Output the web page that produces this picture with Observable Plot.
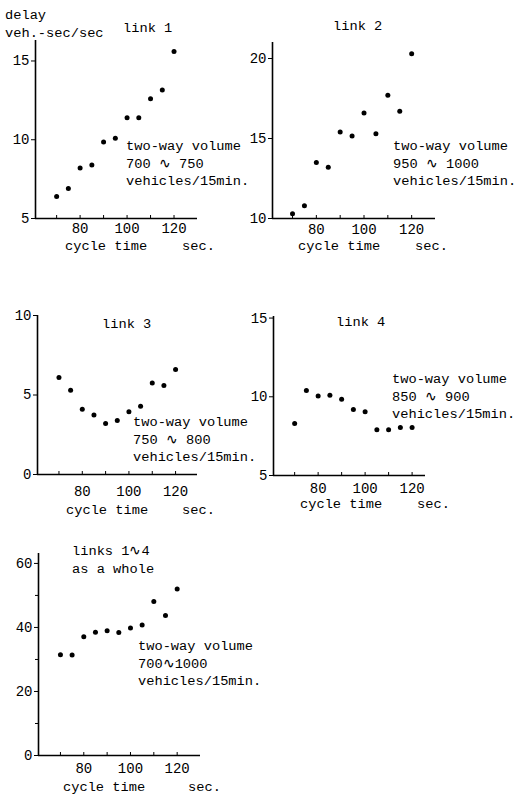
<!DOCTYPE html>
<html>
<head>
<meta charset="utf-8">
<script src="https://cdn.jsdelivr.net/npm/d3@7"></script>
<script src="https://cdn.jsdelivr.net/npm/@observablehq/plot@0.6"></script>
<style>
  html, body { margin: 0; padding: 0; background: #fff; }
  #page { position: relative; width: 516px; height: 799px; overflow: hidden; background: #fff;
          font-family: "Liberation Mono", "DejaVu Sans Mono", monospace; color: #000; }
  .t { position: absolute; white-space: pre; font-size: 13.7px; line-height: 17.5px; }
  svg { position: absolute; overflow: visible; }
</style>
</head>
<body>
<div id="page"></div>
<script>
// ---- data ----
const cycleTimes = [70, 75, 80, 85, 90, 95, 100, 105, 110, 115, 120];
const link1Delay = [6.4, 6.9, 8.2, 8.4, 9.85, 10.1, 11.4, 11.4, 12.6, 13.15, 15.6];
const link2Delay = [10.3, 10.8, 13.5, 13.2, 15.4, 15.15, 16.6, 15.3, 17.7, 16.7, 20.3];
const link3Delay = [6.1, 5.3, 4.1, 3.75, 3.2, 3.4, 3.95, 4.3, 5.75, 5.6, 6.6];
const link4Delay = [8.3, 10.4, 10.05, 10.1, 9.85, 9.2, 9.05, 7.9, 7.9, 8.05, 8.05];
const allLinksDelay = [31.5, 31.4, 37.1, 38.5, 39.0, 38.4, 39.8, 40.8, 48.1, 43.7, 52.0];

const xTickMarks = [70, 80, 90, 100, 110, 120];
const xTickLabels = [80, 100, 120];
const link1YTicks = [5, 10, 15];
const link2YTicks = [10, 15, 20];
const link3YTicks = [0, 5, 10];
const link4YTicks = [5, 10, 15];
const allYTicks = [0, 20, 40, 60];
const allYMinorTicks = [10, 30, 50];

const panelTitles = ["link 1", "link 2", "link 3", "link 4", "links 1\u223F4\nas a whole"];
const volumeTexts = [
  "two-way volume\n700 \u223F 750\nvehicles/15min.",
  "two-way volume\n950 \u223F 1000\nvehicles/15min.",
  "two-way volume\n750 \u223F 800\nvehicles/15min.",
  "two-way volume\n850 \u223F 900\nvehicles/15min.",
  "two-way volume\n700\u223F1000\nvehicles/15min."
];
const yAxisTitle = "delay\nveh.-sec/sec";
const xAxisTitle = "cycle time";
const xUnit = "sec.";

// ---- layout ----
const page = document.getElementById("page");
const ML = 40, MR = 20, MT = 10, MB = 40;
const INK = "#000";

function addText(x, yCenter, str, extra) {
  const d = document.createElement("div");
  d.className = "t";
  d.textContent = str;
  d.style.left = x + "px";
  d.style.top = (yCenter - 8.75) + "px";
  if (extra) Object.assign(d.style, extra);
  page.appendChild(d);
}

function panel(cfg) {
  const data = cycleTimes.map((c, i) => ({cycle: c, delay: cfg.values[i]}));
  const marks = [
    Plot.ruleX([cfg.xDomain[0]], {stroke: INK, strokeWidth: 1.6}),
    Plot.ruleY([cfg.yDomain[0]], {stroke: INK, strokeWidth: 1.6}),
    Plot.axisY({ticks: cfg.yTicks, tickSize: 4, tickPadding: 2, label: null, stroke: INK, fill: INK, fontSize: 14}),
    Plot.axisX({ticks: xTickMarks, tickSize: 3, dy: -3, tickFormat: () => "", label: null, stroke: INK}),
    Plot.axisX({ticks: xTickLabels, tickSize: 0, tickPadding: cfg.pad, label: null, fill: INK, fontSize: 14}),
    Plot.dot(data, {x: "cycle", y: "delay", r: 2.5, fill: INK, stroke: "none"})
  ];
  if (cfg.yMinor) marks.push(Plot.axisY({ticks: cfg.yMinor, tickSize: 3, tickFormat: () => "", label: null, stroke: INK}));
  const svg = Plot.plot({
    width: cfg.right - cfg.left + ML + MR,
    height: cfg.bottom - cfg.top + MT + MB,
    marginLeft: ML, marginRight: MR, marginTop: MT, marginBottom: MB,
    x: {domain: cfg.xDomain},
    y: {domain: cfg.yDomain},
    style: {fontFamily: "Liberation Mono, DejaVu Sans Mono, monospace", fontSize: "14px", color: INK, background: "transparent", overflow: "visible"},
    marks
  });
  svg.style.left = (cfg.left - ML) + "px";
  svg.style.top = (cfg.top - MT) + "px";
  page.appendChild(svg);
}

panel({values: link1Delay, left: 35, right: 197, top: 40, bottom: 218, xDomain: [61, 130], yDomain: [5, 16.3], yTicks: link1YTicks, pad: 5});
panel({values: link2Delay, left: 272, right: 435, top: 42, bottom: 218, xDomain: [61.6, 130], yDomain: [10, 21], yTicks: link2YTicks, pad: 6});
panel({values: link3Delay, left: 37, right: 197, top: 315, bottom: 474, xDomain: [60.8, 129.4], yDomain: [0, 10], yTicks: link3YTicks, pad: 12});
panel({values: link4Delay, left: 273, right: 425, top: 316, bottom: 475, xDomain: [61, 125.7], yDomain: [5, 15.1], yTicks: link4YTicks, pad: 8});
panel({values: allLinksDelay, left: 38, right: 200, top: 553, bottom: 755, xDomain: [60.6, 130], yDomain: [0, 63.1], yTicks: allYTicks, yMinor: allYMinorTicks, pad: 8});

// ---- texts ----
addText(5, 16, yAxisTitle);
addText(123, 29, panelTitles[0]);
addText(333, 27, panelTitles[1]);
addText(102, 325, panelTitles[2]);
addText(336, 323, panelTitles[3]);
addText(72, 552, panelTitles[4]);

addText(126, 147, volumeTexts[0]);
addText(393, 147, volumeTexts[1]);
addText(133, 423, volumeTexts[2]);
addText(392, 380, volumeTexts[3]);
addText(138, 647, volumeTexts[4]);

const xTitlePos = [[65, 182, 247], [298, 415, 247], [66, 182, 511], [300, 417, 505], [63, 188, 788]];
for (const [xt, xs, yc] of xTitlePos) {
  addText(xt, yc, xAxisTitle);
  addText(xs, yc, xUnit);
}
</script>
</body>
</html>
